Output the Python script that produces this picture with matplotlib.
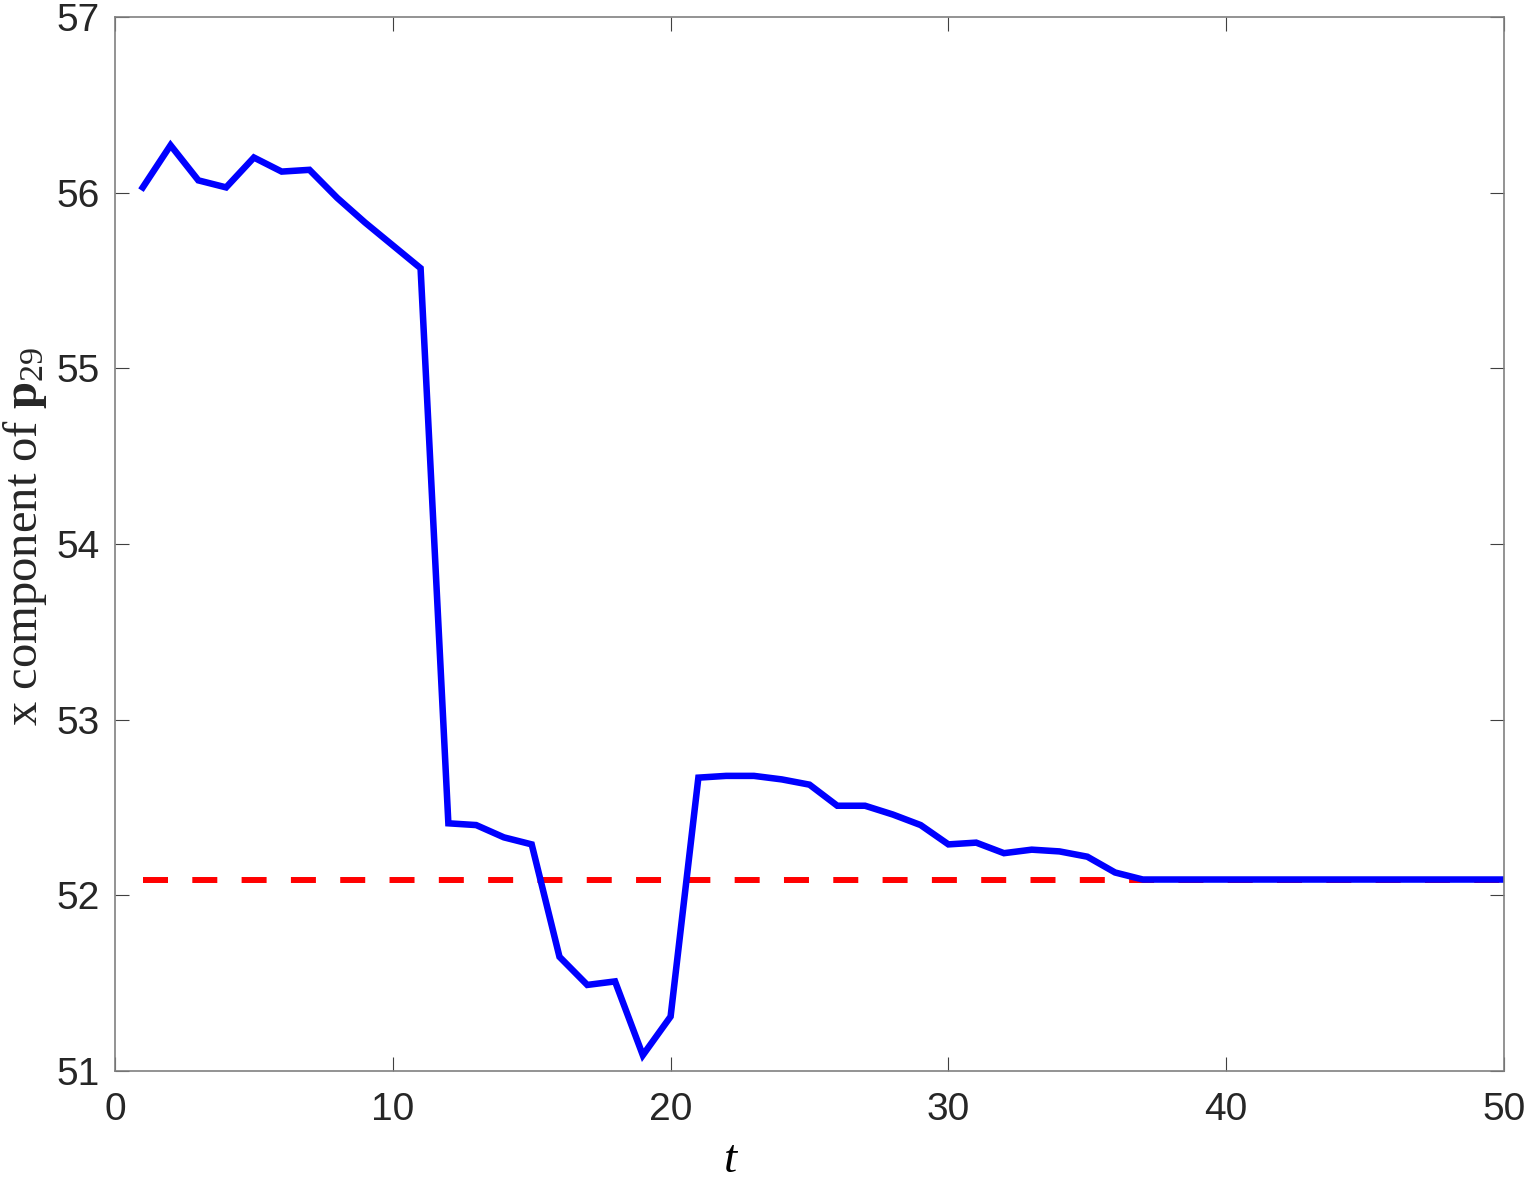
import numpy as np
import matplotlib
matplotlib.use("Agg")
import matplotlib.pyplot as plt

# 数据：t = 1..50
t = np.arange(1, 51)
x_p29 = [56.03, 56.27, 56.07, 56.03, 56.20, 56.12, 56.13, 55.97, 55.83, 55.70,
         55.57, 52.41, 52.40, 52.33, 52.29, 51.65, 51.49, 51.51, 51.09, 51.31,
         52.67, 52.68, 52.68, 52.66, 52.63, 52.51, 52.51, 52.46, 52.40, 52.29,
         52.30, 52.24, 52.26, 52.25, 52.22, 52.13] + [52.09] * 14
target = 52.09

xticks = [0, 10, 20, 30, 40, 50]
yticks = [51, 52, 53, 54, 55, 56, 57]

plt.rcParams['mathtext.fontset'] = 'custom'
plt.rcParams['mathtext.rm'] = 'Liberation Serif'
plt.rcParams['mathtext.it'] = 'Liberation Serif:italic'
plt.rcParams['mathtext.bf'] = 'Liberation Serif:bold'

W, H = 1529, 1179
fig = plt.figure(figsize=(W / 100, H / 100), dpi=100)
ax = fig.add_axes([115 / W, 1 - 1071 / H, (1504 - 115) / W, (1071 - 17) / H])

lw = 4.3
ax.plot(t, [target] * len(t), color=(1, 0, 0), lw=lw,
        linestyle=(0, (18 / lw, 17.5 / lw)), dash_capstyle='butt')
ax.plot(t, x_p29, color=(0, 0, 1), lw=4.7, solid_joinstyle='miter')

ax.set_xlim(0, 50)
ax.set_ylim(51, 57)
ax.set_xticks(xticks)
ax.set_yticks(yticks)
ax.tick_params(direction='in', length=10, width=0.8, color='#404040',
               top=True, right=True, labelsize=28, labelcolor='#262626')
ax.tick_params(axis='x', pad=15)
ax.tick_params(axis='y', pad=11)
for lab in ax.get_xticklabels() + ax.get_yticklabels():
    lab.set_fontfamily('Liberation Sans')
for sp in ax.spines.values():
    sp.set_color('#808080')
    sp.set_linewidth(1.2)

ax.set_xlabel(r'$t$', fontsize=34, va='center')
ax.xaxis.set_label_coords((731 - 115) / 1389, (1071 - 1159) / 1054)
ax.set_ylabel(r'x component of $\mathbf{p}_{29}$', fontsize=35,
              fontfamily='Liberation Serif', va='center', color='#262626')
ax.yaxis.set_label_coords((25 - 115) / 1389, (1071 - 536) / 1054)

fig.savefig('out.png', dpi=100)
